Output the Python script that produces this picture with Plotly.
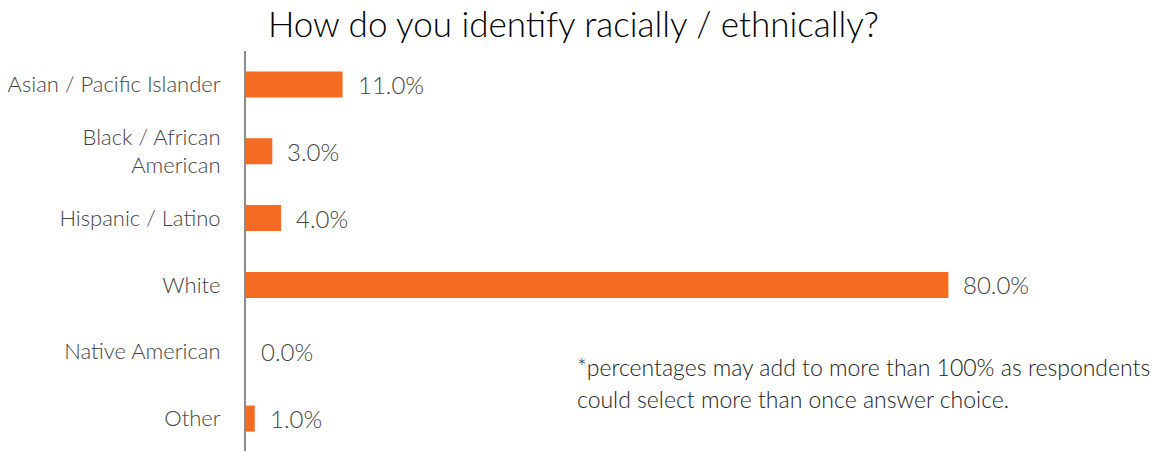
import plotly.graph_objects as go

categories = ["Asian / Pacific Islander", "Black / African<br>American", "Hispanic / Latino",
              "White", "Native American", "Other"]
values = [11.0, 3.0, 4.0, 80.0, 0.0, 1.0]
labels = [f"{v:.1f}%" for v in values]

title = "How do you identify racially / ethnically?"
footnote_lines = ["*percentages may add to more than 100% as respondents",
                  "could select more than once answer choice."]

FONT = "Lato"
W = 300
fig = go.Figure()
fig.add_trace(go.Bar(
    x=values, y=categories, orientation="h",
    marker=dict(color="#F36C21", line=dict(width=0)),
    width=0.39, hoverinfo="skip",
))
for c, v, t in zip(categories, values, labels):
    fig.add_annotation(x=v, y=c, text=t, xanchor="left", xshift=13, showarrow=False,
                       font=dict(family=FONT, size=24, color="#444444", weight=W))

for i, line in enumerate(footnote_lines):
    fig.add_annotation(xref="paper", yref="paper", x=0.375, y=0.211 - i * 0.08,
                       xanchor="left", yanchor="middle",
                       text=line, showarrow=False, align="left",
                       font=dict(family=FONT, size=23, color="#222222", weight=W))

fig.update_layout(
    width=1161, height=451,
    paper_bgcolor="white", plot_bgcolor="white",
    margin=dict(l=238, r=45, t=43, b=7),
    title=dict(text=title, x=0.487, xanchor="center", yref="container", y=0.962, yanchor="middle",
               font=dict(family=FONT, size=35, color="#000000", weight=W)),
    showlegend=False,
    xaxis=dict(range=[0, 100], visible=False, fixedrange=True, automargin=False),
    yaxis=dict(autorange="reversed", showline=True, linecolor="#8c8c8c", linewidth=2,
               showgrid=False, ticks="", ticklabelstandoff=19, automargin=False,
               tickfont=dict(family=FONT, size=22, color="#444444", weight=W)),
)
fig.write_html("out.html")
